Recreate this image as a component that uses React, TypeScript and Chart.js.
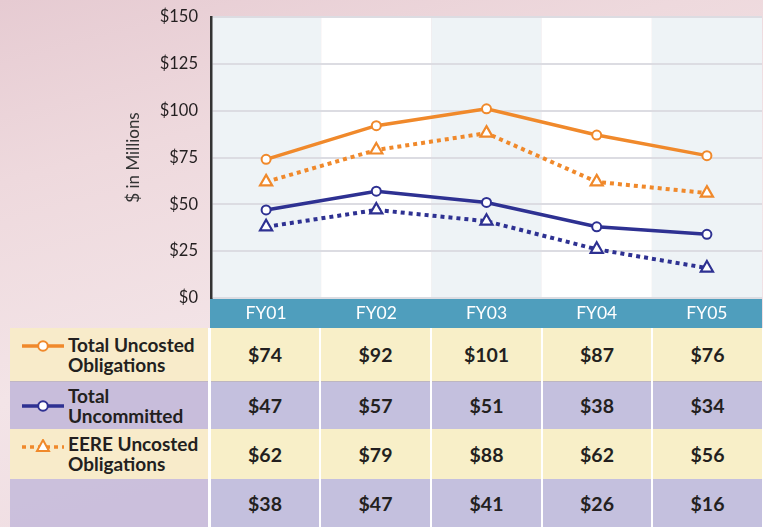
import React, { useEffect, useRef } from 'react';
import { Chart, registerables } from 'chart.js';

Chart.register(...registerables);

const categories = ['FY01', 'FY02', 'FY03', 'FY04', 'FY05'];
const totalUncosted = [74, 92, 101, 87, 76];
const totalUncommitted = [47, 57, 51, 38, 34];
const eereUncosted = [62, 79, 88, 62, 56];
const eereUncommitted = [38, 47, 41, 26, 16];
const seriesLabels = ['Total Uncosted\nObligations', 'Total\nUncommitted', 'EERE Uncosted\nObligations', ''];
const yMin = 0;
const yMax = 150;
const yStep = 25;
const yTitle = '$ in Millions';

const ORANGE = '#f0892b';
const NAVY = '#2e3192';
const FONT = 'Lato, "Open Sans", sans-serif';

const tableSeries = [totalUncosted, totalUncommitted, eereUncosted, eereUncommitted];
const rowColors = ['#f8efc8', '#c4c0de', '#f8efc8', '#c4c0de'];
const labelColors = ['rgba(248,236,200,0.92)', 'rgba(196,186,218,0.92)', 'rgba(248,236,200,0.92)', 'rgba(196,186,218,0.85)'];
const rowTops = [328, 382, 429, 479];
const rowHeights = [54, 47, 50, 48];
const colEdges = [[211, 319], [321, 430], [432, 541], [543, 651], [653, 762]];

const bgPlugin = {
  id: 'bgPlugin',
  beforeDraw(chart: any) {
    const { ctx, chartArea: a, scales } = chart;
    const x = scales.x;
    ctx.save();
    const n = categories.length;
    const w = (a.right - a.left) / n;
    for (let i = 0; i < n; i++) {
      const cx = x.getPixelForValue(i);
      ctx.fillStyle = i % 2 === 0 ? '#eef3f6' : '#ffffff';
      ctx.fillRect(cx - w / 2, a.top, w, a.bottom - a.top);
    }
    ctx.fillStyle = '#4f9ebd';
    ctx.fillRect(a.left - 1, a.bottom, a.right - a.left + 1, x.bottom - a.bottom);
    ctx.restore();
  },
};

function Icon({ idx }: { idx: number }) {
  if (idx === 3) return null;
  const color = idx === 1 ? NAVY : ORANGE;
  const dashed = idx === 2;
  return (
    <svg width={46} height={16} style={{ display: 'block' }}>
      <line x1={2} y1={8} x2={44} y2={8} stroke={color} strokeWidth={3.5}
        strokeDasharray={dashed ? '4 4' : undefined} />
      {idx === 2 ? (
        <polygon points="23,1 29,12 17,12" fill="#fff" stroke={color} strokeWidth={2} />
      ) : (
        <circle cx={23} cy={8} r={4.8} fill="#fff" stroke={color} strokeWidth={2} />
      )}
    </svg>
  );
}

export default function App() {
  const ref = useRef<HTMLCanvasElement>(null);

  useEffect(() => {
    const canvas = ref.current!;
    const chart = new Chart(canvas, {
      type: 'line',
      data: {
        labels: categories,
        datasets: [
          {
            label: 'Total Uncosted Obligations', data: totalUncosted,
            borderColor: ORANGE, borderWidth: 3.5, pointStyle: 'circle', pointRadius: 4.5,
            pointBackgroundColor: '#fff', pointBorderColor: ORANGE, pointBorderWidth: 2,
          },
          {
            label: 'Total Uncommitted', data: totalUncommitted,
            borderColor: NAVY, borderWidth: 3.5, pointStyle: 'circle', pointRadius: 4.5,
            pointBackgroundColor: '#fff', pointBorderColor: NAVY, pointBorderWidth: 2,
          },
          {
            label: 'EERE Uncosted Obligations', data: eereUncosted,
            borderColor: ORANGE, borderWidth: 4, borderDash: [4, 4], pointStyle: 'triangle', pointRadius: 7,
            pointBackgroundColor: '#fff', pointBorderColor: ORANGE, pointBorderWidth: 2.2,
          },
          {
            label: 'EERE Uncommitted', data: eereUncommitted,
            borderColor: NAVY, borderWidth: 4, borderDash: [4, 4], pointStyle: 'triangle', pointRadius: 7,
            pointBackgroundColor: '#fff', pointBorderColor: NAVY, pointBorderWidth: 2.2,
          },
        ],
      },
      options: {
        responsive: false,
        animation: false,
        layout: { autoPadding: false, padding: { top: 17, right: 1, left: 0, bottom: 0 } },
        plugins: { legend: { display: false }, tooltip: { enabled: false } },
        elements: { line: { tension: 0 } },
        scales: {
          x: {
            offset: true,
            grid: { display: false, drawTicks: false },
            border: { display: false },
            ticks: { color: '#ffffff', font: { family: FONT, size: 17.5 }, padding: 5 },
            afterFit: (s: any) => { s.height = 30; s.paddingLeft = 0; s.paddingRight = 0; },
          },
          y: {
            min: yMin, max: yMax,
            ticks: {
              stepSize: yStep, color: '#231f20', padding: 13,
              font: { family: FONT, size: 16.5 },
              callback: (v: any) => '$' + v,
            },
            grid: { color: '#dcdce2', lineWidth: 2, drawTicks: false },
            border: { display: true, color: '#333333', width: 2.5 },
            title: {
              display: true, text: yTitle, color: '#333333',
              font: { family: FONT, size: 17 }, padding: { top: 123, bottom: 0 },
            },
            afterFit: (s: any) => { s.width = 211; s.paddingTop = 0; s.paddingBottom = 0; },
          },
        },
      },
      plugins: [bgPlugin],
    } as any);
    return () => chart.destroy();
  }, []);

  return (
    <div style={{
      position: 'fixed', left: 0, top: 0, width: 763, height: 527, overflow: 'hidden',
      background: 'linear-gradient(165deg, #e6cbd2 0%, #eed9dd 25%, #f3e4e7 55%, #efdde2 80%, #e8d2da 100%)',
      fontFamily: FONT,
    }}>
      <canvas ref={ref} width={763} height={328} style={{ position: 'absolute', left: 0, top: 0, width: 763, height: 328 }} />
      <div style={{ position: 'absolute', left: 208, top: 328, width: 555, height: 199, background: '#ffffff' }} />
      {tableSeries.map((vals, r) => (
        <React.Fragment key={r}>
          <div style={{
            position: 'absolute', left: 10, top: rowTops[r], width: 198, height: rowHeights[r],
            background: labelColors[r], display: 'flex', alignItems: 'center',
            borderBottom: r === 0 ? '1px solid #c0b6c4' : undefined, boxSizing: 'border-box',
          }}>
            <div style={{ width: 58, display: 'flex', justifyContent: 'center', marginLeft: 4, alignSelf: 'flex-start', marginTop: r === 1 ? 16 : 10 }}>
              <Icon idx={r} />
            </div>
            <div style={{
              fontWeight: 700, fontSize: 19, lineHeight: '20px', color: '#231f20',
              whiteSpace: 'pre-line', marginLeft: -4,
            }}>{seriesLabels[r]}</div>
          </div>
          {vals.map((v, c) => (
            <div key={c} style={{
              position: 'absolute', left: colEdges[c][0], top: rowTops[r],
              width: colEdges[c][1] - colEdges[c][0], height: rowHeights[r],
              background: rowColors[r], display: 'flex', alignItems: 'center', justifyContent: 'center',
              fontWeight: 700, fontSize: 19.5, color: '#231f20',
              borderBottom: r === 0 ? '1px solid #bdb6c0' : undefined, boxSizing: 'border-box',
            }}>{'$' + v}</div>
          ))}
        </React.Fragment>
      ))}
    </div>
  );
}
